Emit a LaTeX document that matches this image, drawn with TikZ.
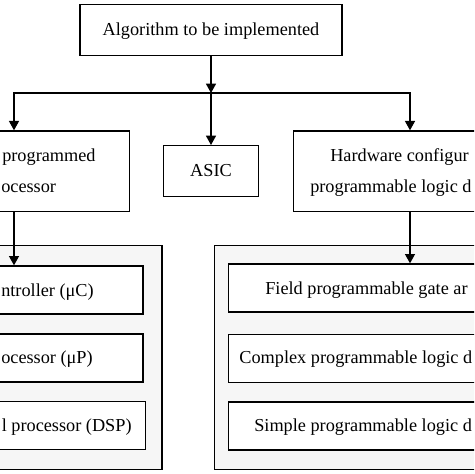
\documentclass[tikz,border=0pt]{standalone}
\usepackage{fontspec}
\setmainfont{Liberation Serif}
\usetikzlibrary{arrows.meta}
\definecolor{panel}{RGB}{246,246,246}

\tikzset{
  box/.style={draw, line width=1pt, fill=white, inner sep=0pt, align=center,
    font=\fontsize{13.7}{24}\selectfont},
  group/.style={draw, line width=1pt, fill=panel, inner sep=0pt},
  txt/.style={inner sep=0pt, font=\fontsize{13.7}{16}\selectfont},
  arr/.style={line width=1pt, -{Triangle[length=7pt,width=7.5pt]}}
}

\begin{document}
\begin{tikzpicture}[x=0.75pt,y=0.75pt,yscale=-1,xscale=1]
		\useasboundingbox (0,0) rectangle (474,474);
		\fill[white] (0,0) rectangle (474,474);
		\clip (0,0) rectangle (474,474);

		% top
		\node [box, minimum width=196.5pt, minimum height=38pt] (algo) at (211,30) {};
		\node [txt, anchor=base] (algotxt) at (211,35.5) {Algorithm to be implemented};
		\coordinate (fork) at (211,93);

		% three ways
		\node [box, minimum width=173pt, minimum height=60.5pt] (sw) at (14,171.3) {};
		\node [box, minimum width=70.8pt, minimum height=38pt] (asic) at (211,171) {};
		\node [box, minimum width=175pt, minimum height=60.5pt] (hw) at (410,171.3) {};
		\node [txt, anchor=base west] (swtxta) at (2,161.5) {programmed};
		\node [txt, anchor=base west] (swtxtb) at (1,192.5) {ocessor};
		\node [txt, anchor=base] (asictxt) at (211,176.5) {ASIC};
		\node [txt, anchor=base west] (hwtxta) at (330,161.5) {Hardware configur};
		\node [txt, anchor=base west] (hwtxtb) at (310,192.5) {programmable logic d};

		% panels
		\node [group, minimum width=222pt, minimum height=168pt] (swgroup) at (14,357.2) {};
		\node [group, minimum width=293.5pt, minimum height=168pt] (hwgroup) at (410,357.2) {};

		% software side
		\node [box, minimum width=193.5pt, minimum height=36pt] (mc) at (14,290) {};
		\node [box, minimum width=193.5pt, minimum height=36pt] (mp) at (14,358) {};
		\node [box, minimum width=197.5pt, minimum height=36pt] (dsp) at (14,425.5) {};
		\node [txt, anchor=base west] (mctxt) at (1,296.5) {ntroller (μC)};
		\node [txt, anchor=base west] (mptxt) at (1,363.5) {ocessor (μP)};
		\node [txt, anchor=base west] (dsptxt) at (1.5,431.5) {l processor (DSP)};

		% hardware side
		\node [box, minimum width=272.5pt, minimum height=36pt] (fpga) at (410,288) {};
		\node [box, minimum width=272.5pt, minimum height=36pt] (cpld) at (410,358.5) {};
		\node [box, minimum width=272.5pt, minimum height=36pt] (spld) at (410,426) {};
		\node [txt, anchor=base west] (fpgatxt) at (265,294) {Field programmable gate ar};
		\node [txt, anchor=base east] (cpldtxt) at (472.5,363.5) {Complex programmable logic d};
		\node [txt, anchor=base west] (spldtxt) at (254,431.5) {Simple programmable logic d};

		% connectors
		\draw [arr] (algo) -- (fork);
		\draw [arr] (fork) -| (sw);
		\draw [arr] (fork) -- (asic);
		\draw [arr] (fork) -| (hw);
		\draw [arr] (sw) -- (mc);
		\draw [arr] (hw) -- (fpga);
	\end{tikzpicture}
\end{document}
